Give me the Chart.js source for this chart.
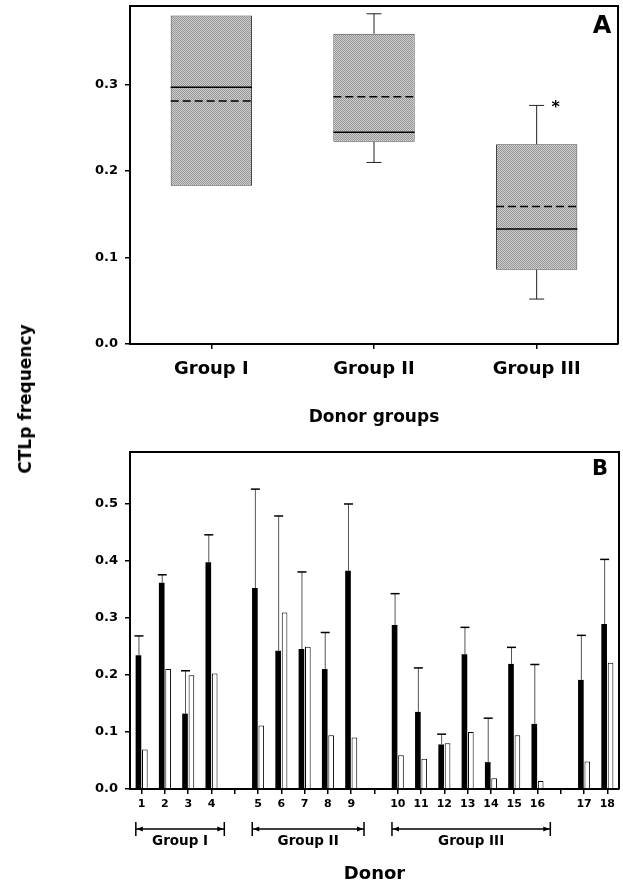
<!DOCTYPE html>
<html>
<head>
<meta charset="utf-8">
<script src="https://cdn.jsdelivr.net/npm/chart.js@4.4.1/dist/chart.umd.min.js"></script>
<style>
  body { margin: 0; background: #fff; width: 623px; height: 887px; position: relative; overflow: hidden;
         font-family: "DejaVu Sans", sans-serif; }
  #wrapA { position: absolute; left: 0; top: 0; width: 623px; height: 440px; }
  #wrapB { position: absolute; left: 0; top: 440px; width: 623px; height: 447px; }
  #yTitle { position: absolute; left: 25px; top: 399px; transform: translate(-50%, -50%) rotate(-90deg);
            font-weight: bold; font-size: 17px; white-space: nowrap; color: #000; }
</style>
</head>
<body>
<div id="wrapA"><canvas id="chartA"></canvas></div>
<div id="wrapB"><canvas id="chartB"></canvas></div>
<div id="yTitle">CTLp frequency</div>
<script>
// panel A - box plots per donor group
const groupLabels = ['Group I', 'Group II', 'Group III'];
const boxLow = [0.183, 0.234, 0.086];
const boxHigh = [0.380, 0.359, 0.231];
const whiskerLow = [0.183, 0.210, 0.052];
const whiskerHigh = [0.380, 0.382, 0.276];
const medians = [0.297, 0.245, 0.133];
const means = [0.281, 0.286, 0.159];
const signif = ['', '', '*'];

// panel B - per donor bars ('' = spacer between groups)
const donors = ['1', '2', '3', '4', '', '5', '6', '7', '8', '9', '',
                '10', '11', '12', '13', '14', '15', '16', '', '17', '18'];
const ctlpMean = [0.234, 0.361, 0.132, 0.397, null, 0.352, 0.242, 0.245, 0.210, 0.382, null,
                  0.287, 0.135, 0.078, 0.236, 0.047, 0.219, 0.114, null, 0.191, 0.289];
const ctlpUpper = [0.268, 0.375, 0.207, 0.445, null, 0.525, 0.478, 0.380, 0.274, 0.499, null,
                   0.342, 0.212, 0.096, 0.283, 0.124, 0.248, 0.218, null, 0.269, 0.402];
const ctlpOther = [0.069, 0.210, 0.199, 0.202, null, 0.111, 0.309, 0.249, 0.094, 0.090, null,
                   0.059, 0.053, 0.080, 0.100, 0.019, 0.094, 0.014, null, 0.048, 0.221];
const donorGroups = [
  { label: 'Group I', from: '1', to: '4' },
  { label: 'Group II', from: '5', to: '9' },
  { label: 'Group III', from: '10', to: '16' }
];

const FONT = '"DejaVu Sans", sans-serif';
Chart.defaults.font.family = FONT;
Chart.defaults.color = '#000';
Chart.defaults.animation = false;

// stippled grey fill for the boxes
function makeStipple(ctx) {
  const c = document.createElement('canvas');
  c.width = 2; c.height = 2;
  const g = c.getContext('2d');
  g.fillStyle = '#cecece';
  g.fillRect(0, 0, 2, 2);
  g.fillStyle = '#959595';
  g.fillRect(0, 0, 1, 1);
  g.fillRect(1, 1, 1, 1);
  return ctx.createPattern(c, 'repeat');
}

// no extra room for the end tick labels of the value axis
function tightY(s) {
  s.width = 130;
  s.paddingTop = 0;
  s.paddingBottom = 0;
}

const frame = {
  id: 'frame',
  afterDraw(chart) {
    const { ctx, chartArea: a } = chart;
    const o = chart.options.plugins.frame;
    ctx.save();
    ctx.strokeStyle = '#000';
    ctx.lineWidth = 2;
    ctx.beginPath();
    ctx.moveTo(a.left, a.top);
    ctx.lineTo(a.right, a.top);
    ctx.lineTo(a.right, a.bottom);
    ctx.stroke();
    ctx.font = 'bold ' + o.size + 'px ' + FONT;
    ctx.fillStyle = '#000';
    ctx.textAlign = 'center';
    ctx.textBaseline = 'middle';
    ctx.fillText(o.letter, a.right - o.dx, a.top + o.dy);
    ctx.restore();
  }
};

const boxParts = {
  id: 'boxParts',
  afterDatasetsDraw(chart) {
    const { ctx } = chart;
    const x = chart.scales.x, y = chart.scales.y;
    const meta = chart.getDatasetMeta(0);
    ctx.save();
    groupLabels.forEach((g, i) => {
      const bar = meta.data[i];
      const cx = x.getPixelForValue(i);
      const half = bar.width / 2;
      ctx.strokeStyle = '#222';
      ctx.lineWidth = 1;
      // whiskers
      [[boxHigh[i], whiskerHigh[i]], [boxLow[i], whiskerLow[i]]].forEach(([b, w]) => {
        if (Math.abs(b - w) < 0.001) return;
        ctx.beginPath();
        ctx.moveTo(cx, y.getPixelForValue(b));
        ctx.lineTo(cx, y.getPixelForValue(w));
        ctx.stroke();
        ctx.beginPath();
        ctx.moveTo(cx - 7.5, y.getPixelForValue(w));
        ctx.lineTo(cx + 7.5, y.getPixelForValue(w));
        ctx.stroke();
      });
      // median (solid) and mean (dashed)
      ctx.strokeStyle = '#000';
      ctx.lineWidth = 1.5;
      ctx.beginPath();
      ctx.moveTo(cx - half, y.getPixelForValue(medians[i]));
      ctx.lineTo(cx + half, y.getPixelForValue(medians[i]));
      ctx.stroke();
      ctx.setLineDash([8, 4]);
      ctx.beginPath();
      ctx.moveTo(cx - half, y.getPixelForValue(means[i]));
      ctx.lineTo(cx + half, y.getPixelForValue(means[i]));
      ctx.stroke();
      ctx.setLineDash([]);
      if (signif[i]) {
        ctx.font = 'bold 16px ' + FONT;
        ctx.fillStyle = '#000';
        ctx.textAlign = 'center';
        ctx.textBaseline = 'middle';
        ctx.fillText(signif[i], cx + 19, y.getPixelForValue(whiskerHigh[i]) + 2);
      }
    });
    ctx.restore();
  }
};

const ctxA = document.getElementById('chartA').getContext('2d');
new Chart(ctxA, {
  type: 'bar',
  data: {
    labels: groupLabels,
    datasets: [{
      data: groupLabels.map((g, i) => [boxLow[i], boxHigh[i]]),
      backgroundColor: makeStipple(ctxA),
      borderColor: '#444',
      borderWidth: 1,
      borderSkipped: false,
      categoryPercentage: 1,
      barPercentage: 0.5
    }]
  },
  options: {
    responsive: true,
    maintainAspectRatio: false,
    layout: { padding: { left: 0, top: 6, right: 5, bottom: 0 } },
    plugins: {
      legend: { display: false },
      tooltip: { enabled: false },
      frame: { letter: 'A', size: 24, dx: 16, dy: 21 }
    },
    scales: {
      x: {
        offset: true,
        grid: { offset: false, drawOnChartArea: false, tickLength: 5, color: '#000', lineWidth: 1.5 },
        border: { color: '#000', width: 2 },
        ticks: { font: { size: 18, weight: 'bold' }, padding: 10, color: '#000' },
        title: { display: true, text: 'Donor groups', font: { size: 17, weight: 'bold' },
                 padding: { top: 0, bottom: 12 }, color: '#000' },
        afterFit(s) { s.height = 96; }
      },
      y: {
        min: 0,
        max: 0.391,
        grid: { drawOnChartArea: false, tickLength: 5, color: '#000', lineWidth: 1.5 },
        border: { color: '#000', width: 2 },
        ticks: { stepSize: 0.1, font: { size: 13, weight: 'bold' }, padding: 7, color: '#000',
                 callback: v => v.toFixed(1) },
        afterBuildTicks(s) { s.ticks = s.ticks.filter(t => t.value <= 0.3001); },
        afterFit: tightY
      }
    }
  },
  plugins: [boxParts, frame]
});

const errorBars = {
  id: 'errorBars',
  afterDatasetsDraw(chart) {
    const { ctx } = chart;
    const y = chart.scales.y;
    const meta = chart.getDatasetMeta(0);
    ctx.save();
    ctlpUpper.forEach((u, i) => {
      if (u == null) return;
      const el = meta.data[i];
      const top = y.getPixelForValue(u);
      ctx.strokeStyle = '#555';
      ctx.lineWidth = 1;
      ctx.beginPath();
      ctx.moveTo(el.x + 0.5, el.y);
      ctx.lineTo(el.x + 0.5, top);
      ctx.stroke();
      ctx.strokeStyle = '#000';
      ctx.lineWidth = 1.5;
      ctx.beginPath();
      ctx.moveTo(el.x - 4, top);
      ctx.lineTo(el.x + 5, top);
      ctx.stroke();
    });
    ctx.restore();
  }
};

const brackets = {
  id: 'brackets',
  afterDraw(chart) {
    const { ctx, chartArea: a } = chart;
    const x = chart.scales.x;
    const yLine = a.bottom + 40;
    ctx.save();
    ctx.strokeStyle = '#000';
    ctx.fillStyle = '#000';
    ctx.lineWidth = 1.5;
    donorGroups.forEach(g => {
      const x0 = x.getPixelForValue(donors.indexOf(g.from) - 0.25);
      const x1 = x.getPixelForValue(donors.indexOf(g.to) + 0.55);
      ctx.beginPath();
      ctx.moveTo(x0, yLine); ctx.lineTo(x1, yLine);
      ctx.moveTo(x0, yLine - 7); ctx.lineTo(x0, yLine + 7);
      ctx.moveTo(x1, yLine - 7); ctx.lineTo(x1, yLine + 7);
      ctx.stroke();
      ctx.beginPath();
      ctx.moveTo(x0 + 1, yLine); ctx.lineTo(x0 + 7, yLine - 2.5); ctx.lineTo(x0 + 7, yLine + 2.5);
      ctx.closePath();
      ctx.moveTo(x1 - 1, yLine); ctx.lineTo(x1 - 7, yLine - 2.5); ctx.lineTo(x1 - 7, yLine + 2.5);
      ctx.closePath();
      ctx.fill();
      ctx.font = 'bold 13.5px ' + FONT;
      ctx.textAlign = 'center';
      ctx.textBaseline = 'middle';
      ctx.fillText(g.label, (x0 + x1) / 2, yLine + 12);
    });
    ctx.restore();
  }
};

new Chart(document.getElementById('chartB'), {
  type: 'bar',
  data: {
    labels: donors,
    datasets: [{
      data: ctlpMean,
      backgroundColor: '#000',
      borderWidth: 0,
      categoryPercentage: 0.55,
      barPercentage: 0.88
    }, {
      data: ctlpOther,
      backgroundColor: '#fff',
      borderColor: '#000',
      borderWidth: 1,
      categoryPercentage: 0.55,
      barPercentage: 0.88
    }]
  },
  options: {
    responsive: true,
    maintainAspectRatio: false,
    layout: { padding: { left: 0, top: 12, right: 4, bottom: 0 } },
    plugins: {
      legend: { display: false },
      tooltip: { enabled: false },
      frame: { letter: 'B', size: 21, dx: 19, dy: 18 }
    },
    scales: {
      x: {
        offset: true,
        grid: { offset: false, drawOnChartArea: false, tickLength: 5, color: '#000', lineWidth: 1.5 },
        border: { color: '#000', width: 2 },
        ticks: { font: { size: 11, weight: 'bold' }, padding: 4, color: '#000', maxRotation: 0, autoSkip: false },
        title: { display: true, text: 'Donor', font: { size: 18, weight: 'bold' },
                 padding: { top: 0, bottom: 2 }, color: '#000' },
        afterFit(s) { s.height = 98; }
      },
      y: {
        min: 0,
        max: 0.59,
        grid: { drawOnChartArea: false, tickLength: 5, color: '#000', lineWidth: 1.5 },
        border: { color: '#000', width: 2 },
        ticks: { stepSize: 0.1, font: { size: 13, weight: 'bold' }, padding: 7, color: '#000',
                 callback: v => v.toFixed(1) },
        afterBuildTicks(s) { s.ticks = s.ticks.filter(t => t.value <= 0.5001); },
        afterFit: tightY
      }
    }
  },
  plugins: [errorBars, brackets, frame]
});
</script>
</body>
</html>
